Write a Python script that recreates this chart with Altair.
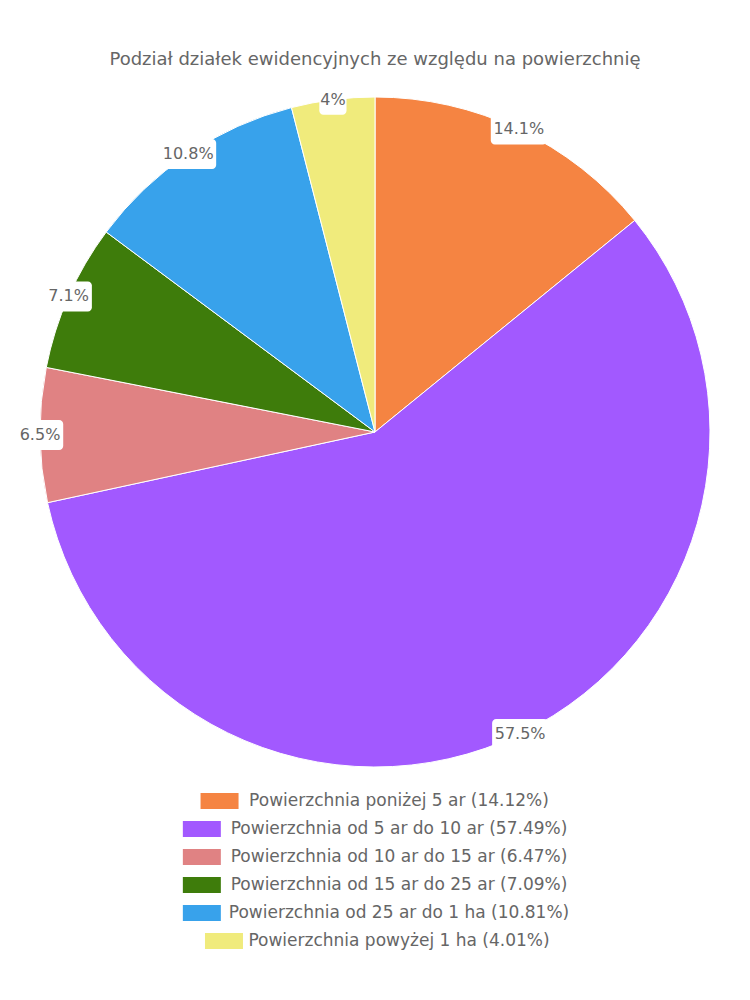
import altair as alt
import pandas as pd

categories = [
    "Powierzchnia poniżej 5 ar",
    "Powierzchnia od 5 ar do 10 ar",
    "Powierzchnia od 10 ar do 15 ar",
    "Powierzchnia od 15 ar do 25 ar",
    "Powierzchnia od 25 ar do 1 ha",
    "Powierzchnia powyżej 1 ha",
]
shares = [14.12, 57.49, 6.47, 7.09, 10.81, 4.01]
colors = ["#F58442", "#A259FF", "#E08283", "#3E7C0B", "#38A2EB", "#F0EB7C"]
title_text = "Podział działek ewidencyjnych ze względu na powierzchnię"

W, H = 734, 984
CX, CY, R = 367, 424, 335
FONT = "DejaVu Sans"
TXT = "#666666"
LEG_Y0, LEG_DY = 793, 28
LEG_CX = CX + 24
LEG_CHAR = 8.85
LBL_CHAR = 9.6

df = pd.DataFrame({"cat": categories, "value": shares, "order": list(range(len(categories)))})

base = (
    alt.Chart(df)
    .transform_window(cum="sum(value)", sort=[alt.SortField("order")])
    .transform_joinaggregate(total="sum(value)")
    .transform_calculate(
        mid="(datum.cum - datum.value/2) / datum.total * 2 * PI",
        lbl="toString(round(datum.value*10)/10) + '%'",
        leg="datum.cat + ' (' + format(datum.value, '.2f') + '%)'",
    )
    .transform_calculate(
        lx=f"{CX} + {R}*sin(datum.mid)",
        ly=f"{CY} - {R}*cos(datum.mid)",
        lw=f"length(datum.lbl)*{LBL_CHAR} + 8",
        legw=f"length(datum.leg)*{LEG_CHAR}",
        rowy=f"{LEG_Y0} + {LEG_DY}*datum.order",
    )
    .transform_calculate(
        bx1="datum.lx - datum.lw/2",
        bx2="datum.lx + datum.lw/2",
        by1="datum.ly - 15",
        by2="datum.ly + 15",
        rx1=f"{LEG_CX} - datum.legw/2 - 48",
        rx2=f"{LEG_CX} - datum.legw/2 - 10",
        ry1="datum.rowy - 8",
        ry2="datum.rowy + 8",
    )
)

color = alt.Color("cat:N", scale=alt.Scale(domain=categories, range=colors), legend=None)

pie = base.mark_arc(stroke="white", strokeWidth=1, outerRadius=R).encode(
    theta=alt.Theta("value:Q", stack=True),
    order=alt.Order("order:Q"),
    color=color,
    x=alt.value(CX),
    y=alt.value(CY),
)

boxes = base.mark_rect(color="white", cornerRadius=4).encode(
    x=alt.X("bx1:Q", scale=None, axis=None),
    x2="bx2:Q",
    y=alt.Y("by1:Q", scale=None, axis=None),
    y2="by2:Q",
)

labels = base.mark_text(font=FONT, fontSize=16, color=TXT, align="center", baseline="middle").encode(
    x=alt.X("lx:Q", scale=None, axis=None),
    y=alt.Y("ly:Q", scale=None, axis=None),
    text="lbl:N",
)

leg_rects = base.mark_rect().encode(
    x=alt.X("rx1:Q", scale=None, axis=None),
    x2="rx2:Q",
    y=alt.Y("ry1:Q", scale=None, axis=None),
    y2="ry2:Q",
    color=color,
)

leg_text = base.mark_text(font=FONT, fontSize=17, color=TXT, align="center", baseline="middle").encode(
    x=alt.value(LEG_CX),
    y=alt.Y("rowy:Q", scale=None, axis=None),
    text="leg:N",
)

title = alt.Chart(pd.DataFrame({"t": [title_text]})).mark_text(
    font=FONT, fontSize=18, color=TXT, align="center", baseline="middle"
).encode(x=alt.value(CX), y=alt.value(52), text="t:N")

chart = (
    alt.layer(pie, boxes, labels, leg_rects, leg_text, title)
    .properties(width=W, height=H, padding=0, autosize="none")
    .configure_view(stroke=None)
)

chart.save("out.html", embed_options={"renderer": "svg", "actions": False})
